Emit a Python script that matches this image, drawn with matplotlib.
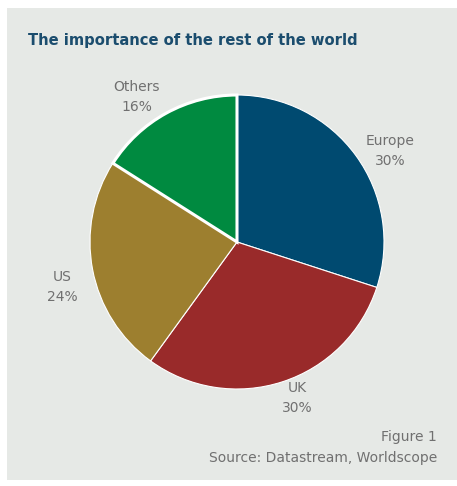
import numpy as np
import matplotlib.pyplot as plt
from matplotlib.patches import Rectangle

# regional split of revenues
regions = ['Europe', 'UK', 'US', 'Others']
shares = [30, 30, 24, 16]
colours = ['#004a70', '#992a2a', '#9d7f2f', '#008a40']

title = 'The importance of the rest of the world'
fig_note = 'Figure 1'
source = 'Source: Datastream, Worldscope'

# label placement: angle nudge (deg) from slice middle, distance in radii
lab_shift = [-5.3, 3.0, 3.6, 5.8]
lab_dist = [1.21, 1.14, 1.23, 1.20]

W, H = 457, 486
fig = plt.figure(figsize=(W / 100, H / 100), dpi=100)
fig.patch.set_facecolor('white')

# grey panel behind everything
fig.patches.append(Rectangle((7 / W, 6 / H), 450 / W, 472 / H,
                             transform=fig.transFigure, facecolor='#e6e9e6',
                             edgecolor='none', zorder=-5))

ax = fig.add_axes([0, 0, 1, 1])
ax.patch.set_alpha(0)

cx, cy, r = 237, H - 242, 147
wedges, _ = ax.pie(shares, colors=colours, startangle=90, counterclock=False,
                   center=(cx, cy), radius=r,
                   wedgeprops=dict(edgecolor='white', linewidth=0.8))
# the "Others" slice gets a heavier white outline
wedges[-1].set_linewidth(2.2)

for w, name, v, da, d in zip(wedges, regions, shares, lab_shift, lab_dist):
    ang = np.deg2rad((w.theta1 + w.theta2) / 2 + da)
    ax.text(cx + d * r * np.cos(ang), cy + d * r * np.sin(ang), f'{name}\n{v}%',
            ha='center', va='center', color='#707070', fontsize=10,
            linespacing=1.55)

ax.set_xlim(0, W)
ax.set_ylim(0, H)
ax.set_aspect('auto')
ax.axis('off')

fig.text(28 / W, 1 - 40 / H, title, color='#1b4d6e', fontsize=10.6,
         fontweight='bold', ha='left', va='center')
fig.text(437 / W, 1 - 437 / H, fig_note, color='#707070', fontsize=10,
         ha='right', va='center')
fig.text(437 / W, 1 - 458 / H, source, color='#707070', fontsize=10,
         ha='right', va='center')

fig.savefig('out.png', dpi=100)
